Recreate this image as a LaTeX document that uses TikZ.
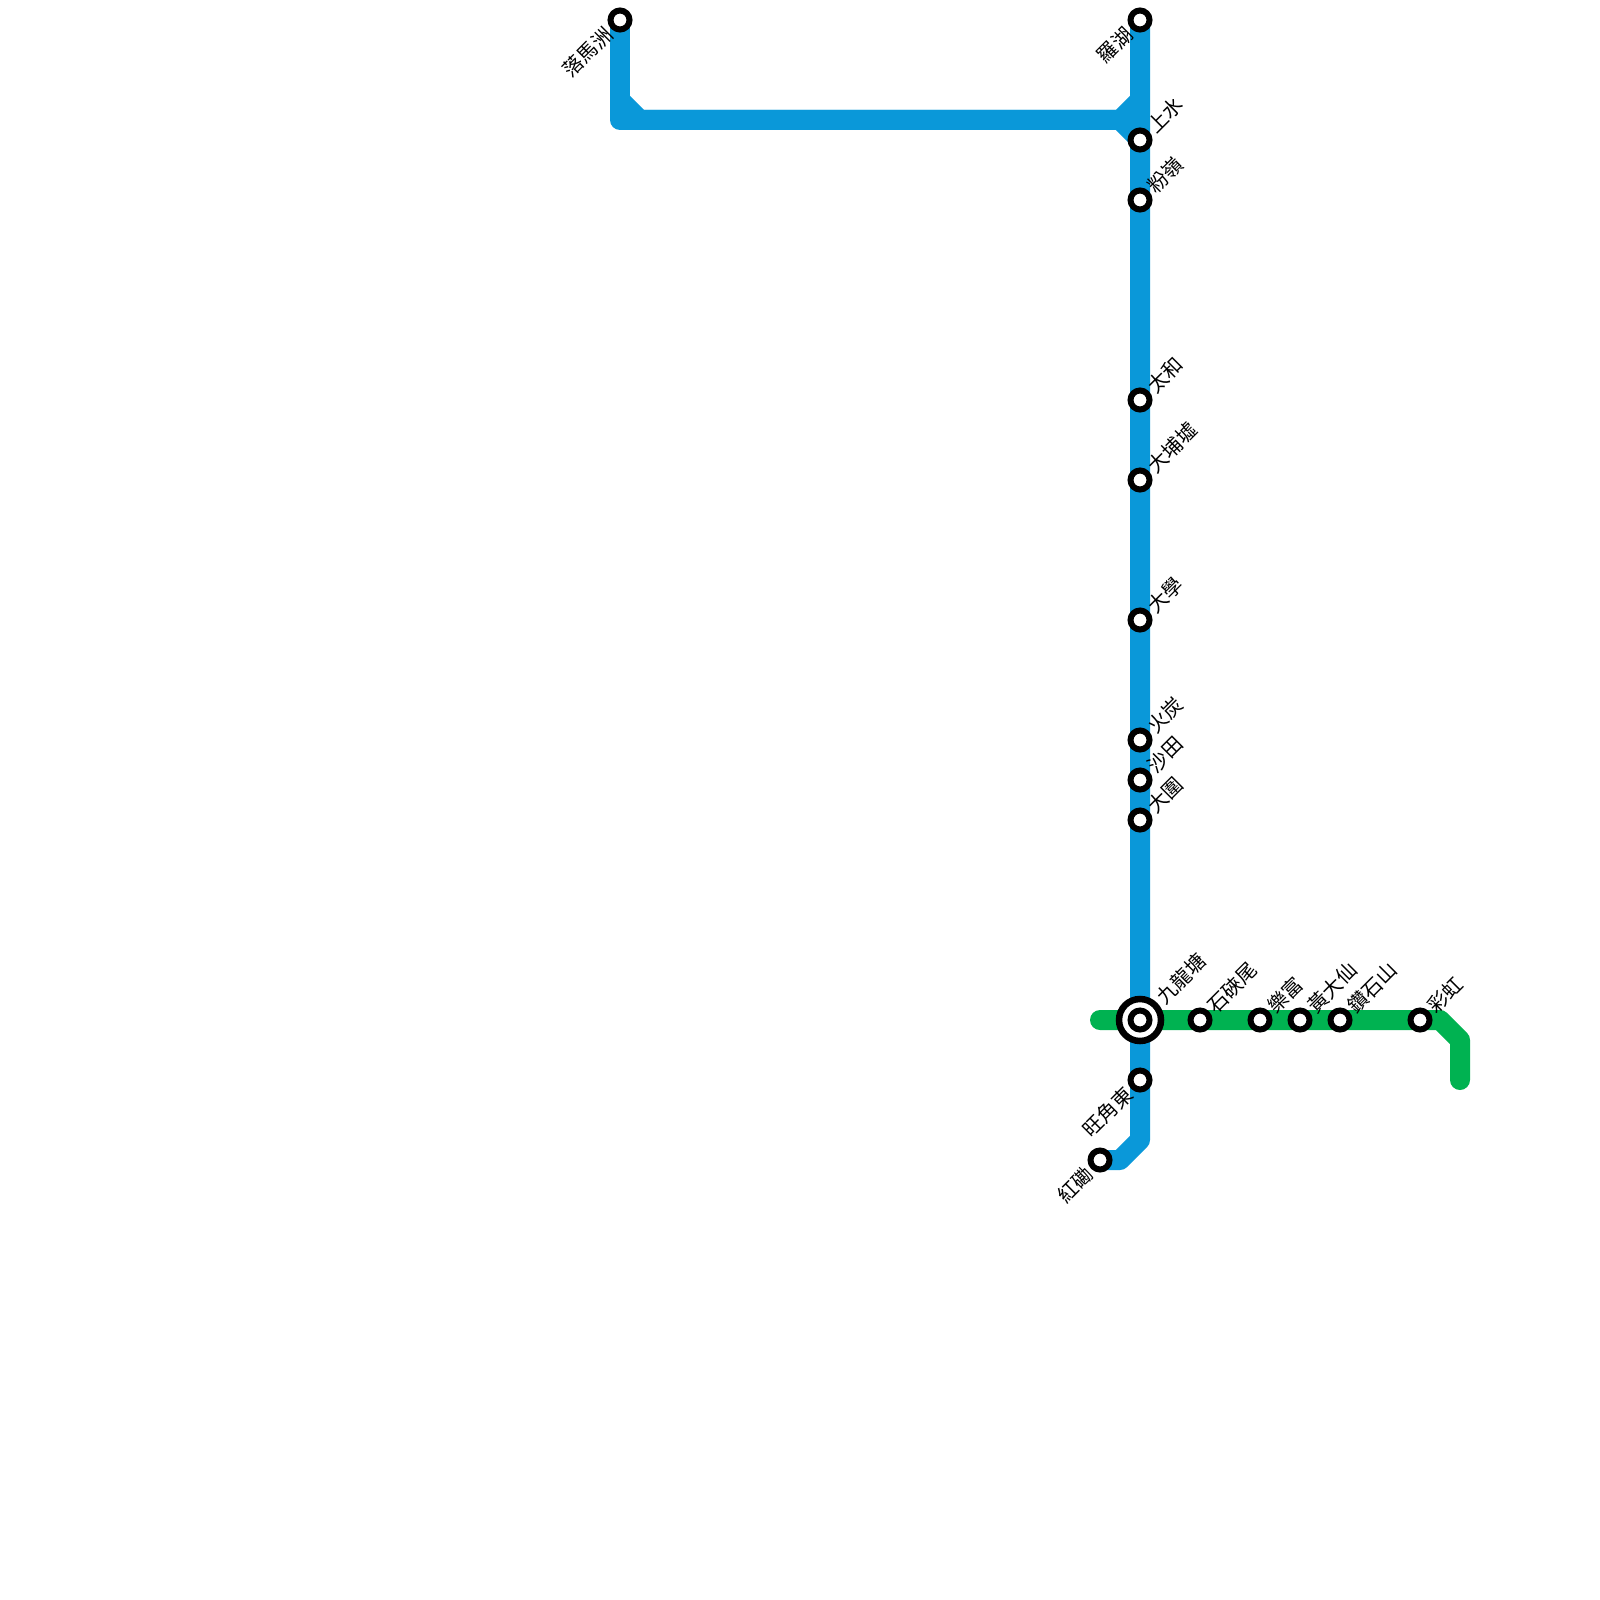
\documentclass[tikz,border=0pt]{standalone}
\usepackage{fontspec}
\setmainfont{Noto Sans CJK TC}
\usetikzlibrary{backgrounds}
\definecolor{kwun}{RGB}{10,152,217}
\definecolor{eal}{HTML}{00B251}
\tikzset{
  x=1pt,y=-1pt,
  stn/.style={circle,draw=black,fill=white,line width=6pt,minimum size=19pt,inner sep=0pt,outer sep=0pt},
  xchg/.style={circle,draw=black,fill=white,line width=6.5pt,minimum size=42pt,inner sep=0pt,outer sep=0pt},
  lineblue/.style={draw=kwun,line width=20pt,line join=round,line cap=butt},
  linegreen/.style={draw=eal,line width=20pt,line join=round,line cap=round},
  lblr/.style={font=\fontsize{20pt}{20pt}\selectfont,rotate=45,anchor=west,inner sep=0pt,text=black},
  lbll/.style={font=\fontsize{20pt}{20pt}\selectfont,rotate=45,anchor=east,inner sep=0pt,text=black},
}
\begin{document}
\begin{tikzpicture}
\useasboundingbox (0,0) rectangle (1600,1600);
% junctions
\coordinate (a1) at (620,100);
\coordinate (a2) at (640,120);
\coordinate (a0) at (620,120);
\coordinate (b0) at (1120,120);
\coordinate (b1) at (1140,100);
\coordinate (c1) at (1140,1140);
\coordinate (c2) at (1120,1160);
\coordinate (g0) at (1100,1020);
\coordinate (g1) at (1440,1020);
\coordinate (g2) at (1460,1040);
\coordinate (g3) at (1460,1080);
% stations
\node[stn] (lmc) at (620,20) {};
\node[stn] (lowu) at (1140,20) {};
\node[stn] (shs) at (1140,140) {};
\node[stn] (fan) at (1140,200) {};
\node[stn] (tao) at (1140,400) {};
\node[stn] (tpm) at (1140,480) {};
\node[stn] (uni) at (1140,620) {};
\node[stn] (fot) at (1140,740) {};
\node[stn] (sht) at (1140,780) {};
\node[stn] (twi) at (1140,820) {};
\node[xchg] (kot2) at (1140,1020) {};
\node[stn] (kot) at (1140,1020) {};
\node[stn] (mke) at (1140,1080) {};
\node[stn] (hom) at (1100,1160) {};
\node[stn] (skm) at (1200,1020) {};
\node[stn] (lof) at (1260,1020) {};
\node[stn] (wts) at (1300,1020) {};
\node[stn] (dih) at (1340,1020) {};
\node[stn] (cho) at (1420,1020) {};
% lines
\begin{scope}[on background layer]
\draw[lineblue] (lmc.center) -- (a0) -- (a2);
\draw[lineblue] (a1) -- (a2) -- (b0) -- (b1);
\draw[lineblue] (a2) -- (b0) -- (shs.center);
\draw[lineblue] (lowu.center) -- (shs.center) -- (fan.center) -- (tao.center) -- (tpm.center) -- (uni.center) -- (fot.center) -- (sht.center) -- (twi.center) -- (kot.center) -- (mke.center) -- (c1) -- (c2) -- (hom.center);
\draw[linegreen] (g0) -- (kot.center) -- (skm.center) -- (lof.center) -- (wts.center) -- (dih.center) -- (cho.center) -- (g1) -- (g2) -- (g3);
\end{scope}
% labels
\node[lbll] (tlmc) at (609,31) {落馬洲};
\node[lbll] (tlowu) at (1129,31) {羅湖};
\node[lblr] (tshs) at (1151,129) {上水};
\node[lblr] (tfan) at (1151,189) {粉嶺};
\node[lblr] (ttao) at (1151,389) {太和};
\node[lblr] (ttpm) at (1151,469) {大埔墟};
\node[lblr] (tuni) at (1151,609) {大學};
\node[lblr] (tfot) at (1151,729) {火炭};
\node[lblr] (tsht) at (1151,769) {沙田};
\node[lblr] (ttwi) at (1151,809) {大圍};
\node[lblr] (tkot) at (1160,1000) {九龍塘};
\node[lbll] (tmke) at (1129,1091) {旺角東};
\node[lbll] (thom) at (1089,1171) {紅磡};
\node[lblr] (tskm) at (1211,1009) {石硤尾};
\node[lblr] (tlof) at (1271,1009) {樂富};
\node[lblr] (twts) at (1311,1009) {黃大仙};
\node[lblr] (tdih) at (1351,1009) {鑽石山};
\node[lblr] (tcho) at (1431,1009) {彩虹};
\end{tikzpicture}
\end{document}
